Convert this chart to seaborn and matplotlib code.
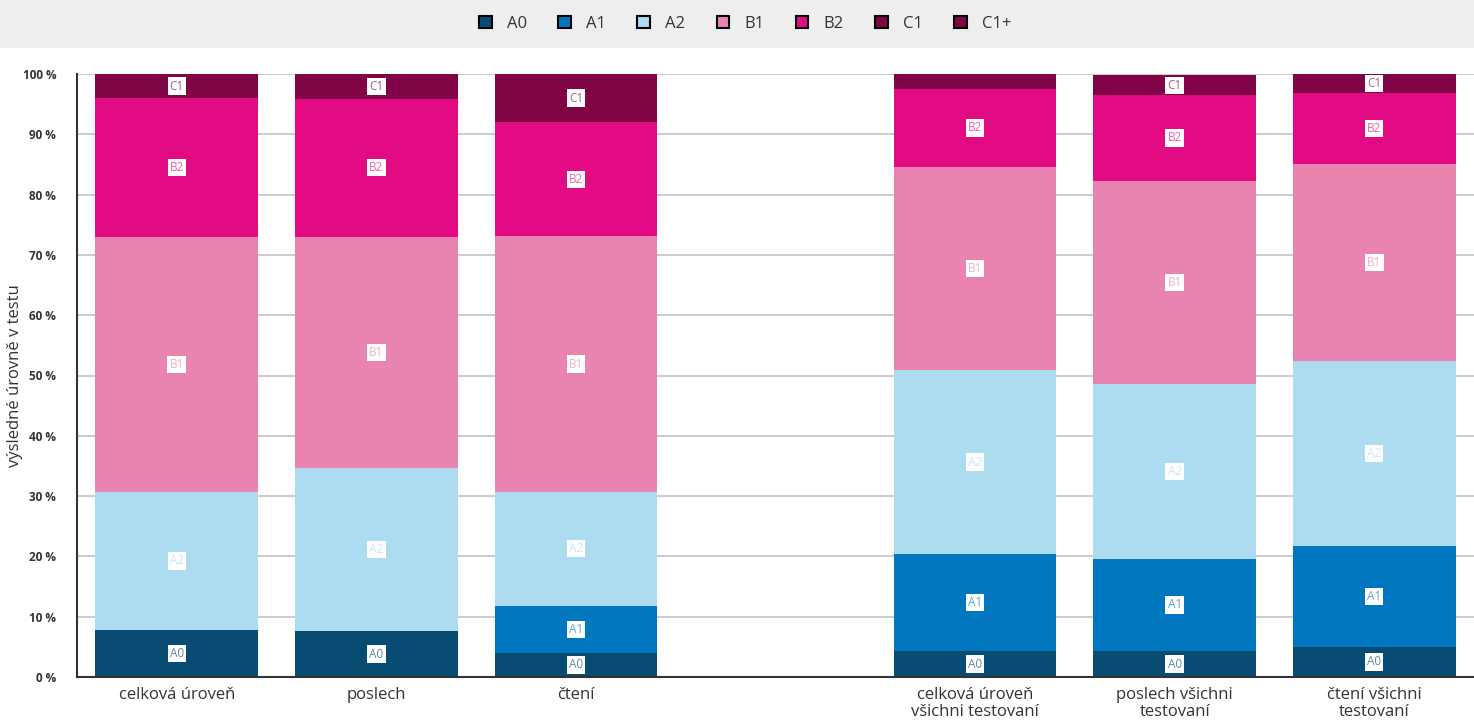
import numpy as np
import pandas as pd
import seaborn as sns
import matplotlib.pyplot as plt
from matplotlib.patches import Patch, Rectangle

categories = ["celková úroveň", "poslech", "čtení",
              "celková úroveň\nvšichni testovaní", "poslech všichni\ntestovaní",
              "čtení všichni\ntestovaní"]
levels = ["A0", "A1", "A2", "B1", "B2", "C1", "C1+"]
A0 = [7.8, 7.6, 4.0, 4.3, 4.3, 5.0]
A1 = [0.0, 0.0, 7.8, 16.1, 15.3, 16.7]
A2 = [22.9, 27.1, 18.9, 30.5, 29.0, 30.7]
B1 = [42.3, 38.3, 42.4, 33.7, 33.7, 32.7]
B2 = [23.0, 22.9, 18.9, 12.9, 14.2, 11.7]
C1 = [4.0, 4.1, 8.0, 2.5, 3.3, 3.2]
C1p = [0.0, 0.0, 0.0, 0.0, 0.0, 0.0]
colors = ["#084c74", "#0077be", "#addcf0", "#e984b0", "#e30b83", "#810546", "#810546"]

values = [A0, A1, A2, B1, B2, C1, C1p]
order = categories[:3] + [" "] + categories[3:]

df = pd.DataFrame({lv: v for lv, v in zip(levels, values)}, index=categories)
cum = df.cumsum(axis=1)

sns.set_style("white")
plt.rcParams['font.family'] = ['Open Sans', 'DejaVu Sans']

fig = plt.figure(figsize=(14.74, 7.25), dpi=100)
fig.patches.append(Rectangle((0, 1 - 48 / 725), 1, 48 / 725, transform=fig.transFigure,
                             facecolor="#eeeeee", edgecolor="none", zorder=0))
ax = fig.add_axes([77 / 1474, 1 - 677 / 725, 1 - 77 / 1474, (677 - 74) / 725])

# overlay cumulative bars, tallest first
for i in range(len(levels) - 1, -1, -1):
    d = pd.DataFrame({"cat": categories, "val": cum[levels[i]].values})
    sns.barplot(data=d, x="cat", y="val", order=order, color=colors[i],
                saturation=1, width=0.815, errorbar=None, linewidth=0,
                ax=ax, zorder=2)

# segment labels
for j, cat in enumerate(categories):
    xpos = order.index(cat)
    for i, lv in enumerate(levels):
        v = df.loc[cat, lv]
        if v < 3:
            continue
        mid = cum.loc[cat, lv] - v / 2
        ax.text(xpos, mid, lv, ha="center", va="center", fontsize=8.5,
                color=colors[i], alpha=0.65, zorder=4,
                bbox=dict(boxstyle="square,pad=0.18", facecolor="white", edgecolor="none"))

ax.set_xlim(-0.5, 6.5)
ax.set_ylim(0, 100)
ax.set_yticks(range(0, 101, 10))
ax.set_yticklabels([f"{t} %" for t in range(0, 101, 10)], fontsize=8.5, fontweight="bold",
                   color="#333333")
ax.set_xticks(range(len(order)))
ax.set_xticklabels(order, fontsize=12, color="#333333", linespacing=1.1)
ax.set_xlabel("")
ax.set_ylabel("výsledné úrovně v testu", fontsize=12, color="#333333")
ax.yaxis.set_label_coords(-0.0387, 0.5)
ax.yaxis.grid(True, color="#c8c8c8", linewidth=1.3, zorder=0)
ax.set_axisbelow(True)
ax.tick_params(axis="y", length=14, color="#c8c8c8", width=1.3, pad=1)
ax.tick_params(axis="x", length=0, pad=7)
for s in ["top", "right"]:
    ax.spines[s].set_visible(False)
for s in ["left", "bottom"]:
    ax.spines[s].set_color("#333333")
    ax.spines[s].set_linewidth(1.5)
ax.spines["left"].set_zorder(5)

handles = [Patch(facecolor=c, edgecolor="black", linewidth=1.5, label=lv)
           for lv, c in zip(levels, colors)]
fig.legend(handles=handles, loc="center", bbox_to_anchor=(745 / 1474, 1 - 24 / 725),
           ncol=7, frameon=False, fontsize=12, handlelength=0.75, handleheight=0.75,
           columnspacing=1.9, handletextpad=0.9, labelcolor="#333333")

fig.savefig("out.png", dpi=100)
